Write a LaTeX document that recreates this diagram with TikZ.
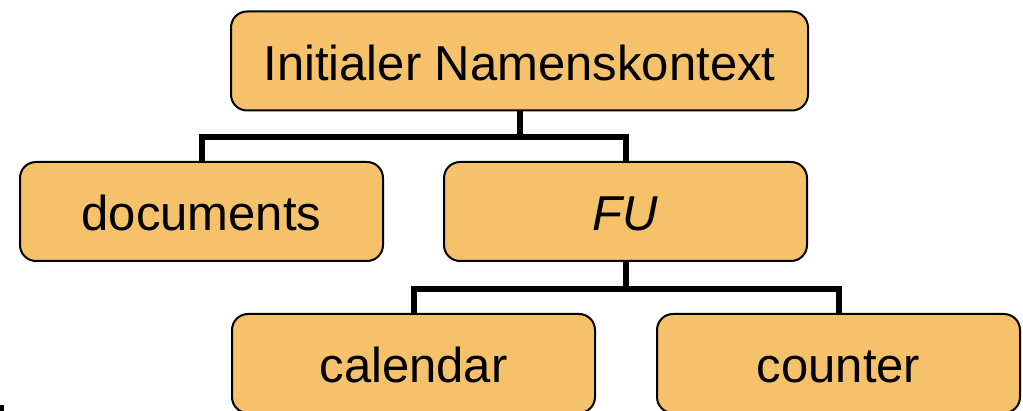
\documentclass[tikz,border=0pt]{standalone}
\usepackage{fontspec}
\setmainfont{Liberation Sans}
\definecolor{boxfill}{RGB}{245,193,107}
\tikzset{
  item/.style={draw=black, line width=2pt, fill=boxfill, rounded corners=16pt,
    minimum height=99pt, inner sep=0pt, text height=39pt, text depth=0pt,
    font=\fontsize{49}{54}\selectfont},
  conn/.style={draw=black, line width=6pt, line join=miter}
}
\begin{document}
\begin{tikzpicture}[x=1pt, y=-1pt]
  \useasboundingbox (0,0) rectangle (1023,411);
  % tree nodes
  \node[item, minimum width=577pt] (root) at (519.5,61) {Initialer Namenskontext};
  \node[item, minimum width=363pt] (docs) at (201.5,211.5) {documents};
  \node[item, minimum width=363pt] (fu) at (625.5,211.5) {\itshape FU};
  \node[item, minimum width=363pt] (cal) at (413.5,363.5) {calendar};
  \node[item, minimum width=363pt] (cnt) at (838.5,363.5) {counter};
  % branch connectors
  \draw[conn] (root.south) -- ++(0,26) coordinate (j1);
  \draw[conn] (docs.north) |- (j1) -| (fu.north);
  \draw[conn] (fu.south) -- ++(0,27.5) coordinate (j2);
  \draw[conn] (cal.north) |- (j2) -| (cnt.north);
  % small mark in the lower left corner
  \fill[black] (0,405) rectangle (4,411);
\end{tikzpicture}
\end{document}
